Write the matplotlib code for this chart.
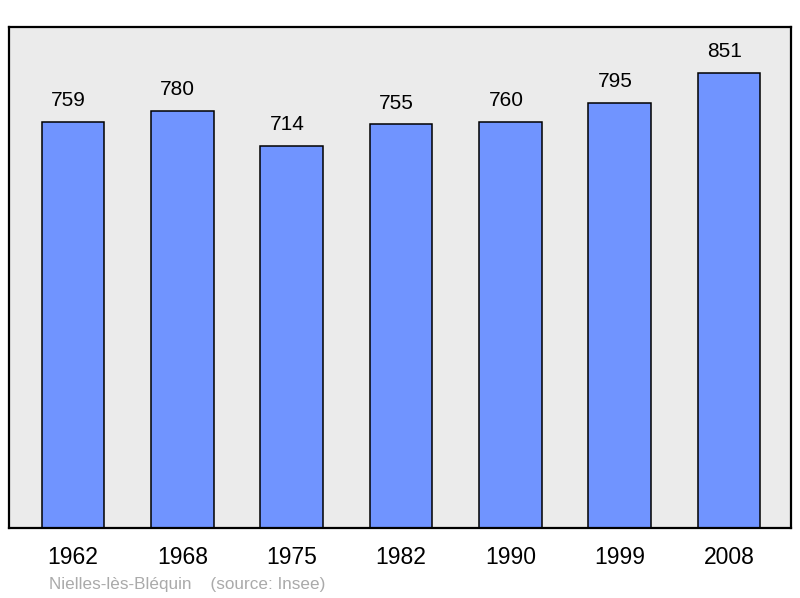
import matplotlib.pyplot as plt
import numpy as np

plt.rcParams['font.family'] = ['Liberation Sans', 'DejaVu Sans']

# population by census year
years = ['1962', '1968', '1975', '1982', '1990', '1999', '2008']
population = [759, 780, 714, 755, 760, 795, 851]

x = np.arange(len(years))

fig = plt.figure(figsize=(8, 5.98), dpi=100)
ax = fig.add_axes([9 / 800, 70 / 598, 782 / 800, 501 / 598])
ax.set_facecolor('#ebebeb')

ax.bar(x, population, width=0.575, color='#7094ff', edgecolor='black', linewidth=1.1, zorder=2)

for xi, v in zip(x, population):
    ax.annotate(str(v), (xi, v), xytext=(-3.2, 8.5), textcoords='offset points',
                ha='center', va='bottom', fontsize=15)

ax.set_xlim(-0.585, 6.567)
ax.set_ylim(0, 937)
ax.set_yticks([])
ax.set_xticks(x)
ax.set_xticklabels(years, fontsize=16.5)
ax.tick_params(axis='x', length=0, pad=13)

for s in ax.spines.values():
    s.set_linewidth(1.6)

fig.text(49 / 800, 1 - 584 / 598, 'Nielles-lès-Bléquin    (source: Insee)',
         fontsize=12.3, color='#aaaaaa', va='center', ha='left')

fig.savefig('out.png', dpi=100)
